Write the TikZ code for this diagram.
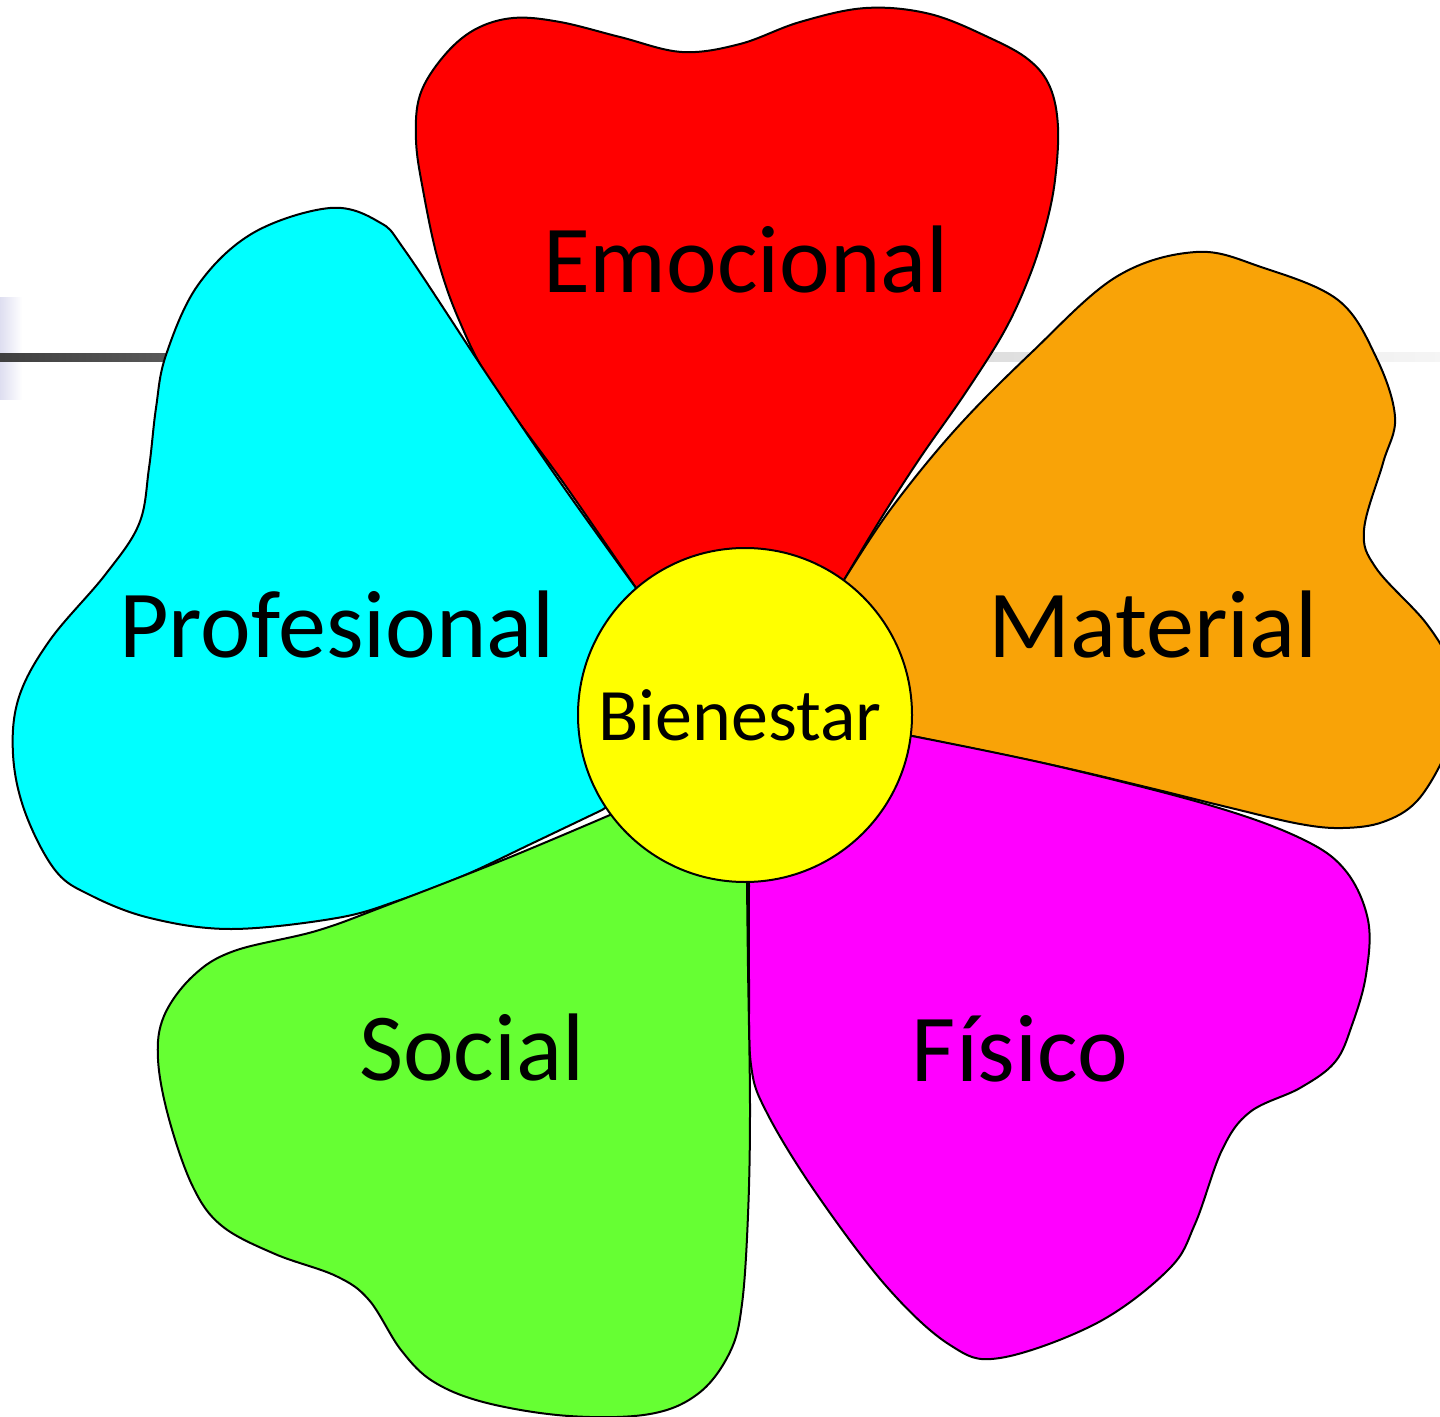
\documentclass[tikz,border=0pt]{standalone}
\usepackage{fontspec}
\setmainfont{Carlito}
\definecolor{pRed}{RGB}{255,0,0}
\definecolor{pCyan}{RGB}{0,255,255}
\definecolor{pOrange}{RGB}{249,163,7}
\definecolor{pMagenta}{RGB}{255,0,255}
\definecolor{pGreen}{RGB}{102,255,51}
\definecolor{pYellow}{RGB}{255,255,0}
\definecolor{lav}{RGB}{222,222,240}
\tikzset{
  petal/.style={draw=black, line width=1pt, line join=round},
  petallabel/.style={anchor=base, font=\fontsize{48}{58}\selectfont, inner sep=0pt},
  centerlabel/.style={anchor=base, font=\fontsize{37}{44}\selectfont, inner sep=0pt},
  smoothc/.style={smooth, tension=0.6}
}
\begin{document}
\begin{tikzpicture}[x=0.5pt, y=-0.5pt]
\path[use as bounding box, clip] (0,0) rectangle (1440,1417);
\fill[white] (0,0) rectangle (1440,1417);
% background slide remnants
\shade[left color=lav, right color=white] (0,298) rectangle (22,400);
\shade[left color=black!75, right color=black!65] (0,354) rectangle (170,362);
\shade[left color=black!13, right color=black!4] (980,353) rectangle (1440,362);

% red petal (Emocional)
\path[petal, fill=pRed] (745,715) -- plot[smoothc] coordinates {
 (636,588) (565,485) (492,384) (459,320) (438,260) (423,190) (416,140) (420,95)
 (443,57) (474,30) (513,18) (560,22) (620,37) (682,52) (740,44) (800,22)
 (866,8) (930,14) (990,38) (1029,60) (1050,87) (1058,127) (1055,180)
 (1046,225) (1030,275) (1005,330) (966,392) (920,458) (880,520) (844,580)
} -- cycle;

% orange petal (Material)
\path[petal, fill=pOrange] (745,715) -- plot[smoothc] coordinates {
 (844,580) (890,510) (955,430) (1031,353) (1116,277) (1196,252) (1261,267)
 (1338,300) (1376,357) (1395,417) (1383,463) (1364,530) (1376,568) (1426,623)
 (1452,668) (1458,712) (1445,755) (1417,801) (1383,822) (1343,828) (1300,824)
 (1231,808) (1150,788) (1052,765) (912,736)
} -- cycle;

% cyan petal (Profesional)
\path[petal, fill=pCyan] (745,715) -- plot[smoothc] coordinates {
 (602,810) (535,842) (463,876) (400,900) (337,918) (231,929) (150,918) (90,895) (55,870)
 (25,812) (13,754) (19,697) (50,640) (105,575) (139,524) (149,468)
 (156,408) (166,355) (198,285) (253,233) (330,208) (379,222) (406,252)
 (488,376) (560,482) (636,588)
} -- cycle;

% magenta petal (Fisico)
\path[petal, fill=pMagenta] (745,715) -- plot[smoothc] coordinates {
 (912,736) (1052,765) (1209,805) (1300,838) (1345,870) (1368,920) (1366,975)
 (1352,1025) (1335,1062) (1300,1088) (1250,1112) (1222,1150) (1195,1224)
 (1169,1269) (1097,1323) (1000,1358) (950,1345) (887,1287) (816,1193)
 (767,1113) (751,1065) (749,980) (749,885)
} -- cycle;

% green petal (Social)
\path[petal, fill=pGreen] (745,715) -- plot[smoothc] coordinates {
 (747,883) (748,967) (750,1109) (748,1215) (742,1304) (730,1352) (699,1393)
 (650,1414) (569,1416) (487,1403) (434,1382) (401,1350) (369,1300)
 (336,1276) (275,1254) (222,1226) (193,1187) (169,1119) (158,1059)
 (164,1016) (193,976) (234,951) (316,931) (385,906) (503,860) (610,815)
} -- cycle;

% centre
\node[circle, draw=black, line width=1pt, fill=pYellow, minimum size=167pt, inner sep=0pt] (centre) at (745,715) {};

\node[petallabel] (emocional) at (746,293) {Emocional};
\node[petallabel] (profesional) at (337,657) {Profesional};
\node[petallabel] (material) at (1153,657) {Material};
\node[petallabel] (social) at (472,1080) {Social};
\node[petallabel] (fisico) at (1020,1081) {Físico};
\node[centerlabel] (bienestar) at (740,740) {Bienestar};
\end{tikzpicture}
\end{document}
